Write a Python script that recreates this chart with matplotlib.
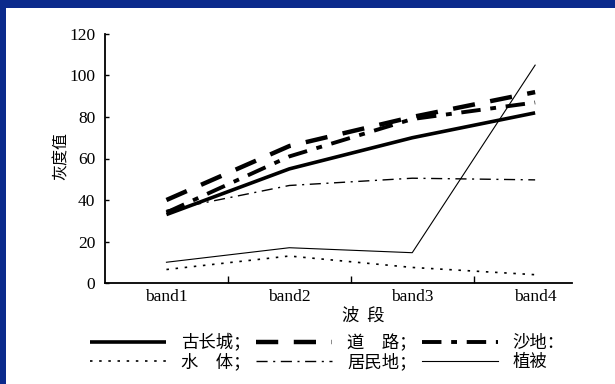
import matplotlib
matplotlib.use("Agg")
import matplotlib.pyplot as plt
from matplotlib.patches import Rectangle

plt.rcParams['font.family'] = ['Liberation Serif', 'Noto Sans CJK SC', 'DejaVu Sans']

bands = ['band1', 'band2', 'band3', 'band4']
great_wall = [33, 55, 70, 82]
road = [40, 66, 80, 92]
sand = [34, 61, 79, 87]
water = [6.5, 13, 7.5, 4]
residential = [35, 47, 50.5, 49.7]
vegetation = [10, 17, 14.6, 105]

fig = plt.figure(figsize=(6.15, 3.84), dpi=100)
fig.patch.set_facecolor('#0b2a8c')
fig.patches.append(Rectangle((6 / 615, 0), 1, 1 - 8 / 384, transform=fig.transFigure,
                             facecolor='white', edgecolor='none', zorder=-5))

ax = fig.add_axes([105 / 615, 1 - 283 / 384, (572 - 105) / 615, (283 - 34) / 384])
ax.set_facecolor('none')
ax.set_zorder(2)
x = range(len(bands))

l1, = ax.plot(x, great_wall, color='black', lw=2.6, solid_capstyle='butt')
l2, = ax.plot(x, road, color='black', lw=3.2, dashes=(5, 3.5))
l3, = ax.plot(x, sand, color='black', lw=2.8, dashes=(5, 2.5, 1.5, 2.5))
l4, = ax.plot(x, water, color='black', lw=1.2, dashes=(1.5, 4))
l5, = ax.plot(x, residential, color='black', lw=1.0, dashes=(8, 4, 1.5, 4))
l6, = ax.plot(x, vegetation, color='black', lw=0.8)

ax.set_xlim(-0.5, 3.3)
ax.set_ylim(0, 120)
ax.set_yticks(range(0, 121, 20))
ax.set_xticks([0.5, 1.5, 2.5])
ax.set_xticklabels([])
ax.set_xticks(list(x), minor=True)
ax.set_xticklabels(bands, minor=True, fontsize=12.5)
ax.tick_params(axis='x', which='major', direction='in', length=5, width=1)
ax.tick_params(axis='x', which='minor', length=0, pad=4)
ax.tick_params(axis='y', direction='in', length=3, width=1, labelsize=12.5, pad=7)
for s in ['top', 'right']:
    ax.spines[s].set_visible(False)
for s in ['left', 'bottom']:
    ax.spines[s].set_linewidth(1.3)

cjk = ['Noto Sans CJK SC', 'DejaVu Sans']
fig.text(61 / 615, 1 - 156 / 384, '灰度值', rotation=90, ha='center', va='center',
         fontsize=11.5, family=cjk)
fig.text(363 / 615, 1 - 316 / 384, '波  段', ha='center', va='center', fontsize=12.5, family=cjk)

handles = [l1, l4, l2, l5, l3, l6]
labels = ['古长城；', '水　体；', '道　路；', '居民地；', '沙地：', '植被']
fig.legend(handles, labels, loc='upper left', bbox_to_anchor=(90 / 615, 1 - 334 / 384),
           ncol=3, frameon=False, borderpad=0, borderaxespad=0, handlelength=4.4,
           handletextpad=0.85, columnspacing=0.3, labelspacing=0.05,
           prop={'family': cjk, 'size': 12.5})

fig.savefig('out.png', dpi=100)
